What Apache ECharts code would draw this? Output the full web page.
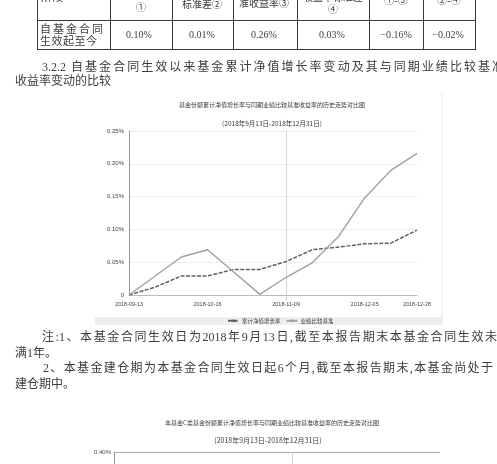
<!DOCTYPE html>
<html><head><meta charset="utf-8">
<script src="https://cdn.jsdelivr.net/npm/echarts@6/dist/echarts.min.js"></script>
<style>
html,body{margin:0;padding:0;background:#fff;}
#page{position:relative;width:497px;height:464px;overflow:hidden;background:#fff;font-family:"Liberation Serif","Noto Sans CJK SC",serif;color:#3d3d3d;}
#chart{position:absolute;left:0;top:0;width:497px;height:464px;}
#doc{position:absolute;left:0;top:0;width:497px;height:464px;}
.t{position:absolute;white-space:nowrap;line-height:1;}
.j{position:absolute;text-align:justify;text-align-last:justify;line-height:1;}
.ln{position:absolute;background:#3a3a3a;}
</style></head><body>
<div id="page"><div id="chart"></div><div id="doc"></div></div>
<script>
// ---------- data ----------
const dates = ['2018-09-13','2018-09-21','2018-10-08','2018-10-16','2018-10-24','2018-11-01','2018-11-09','2018-11-19','2018-11-27','2018-12-05','2018-12-13','2018-12-28'];
const fundReturn = [0, 0.012, 0.029, 0.029, 0.039, 0.039, 0.051, 0.069, 0.073, 0.078, 0.079, 0.099];
const benchmarkReturn = [0, 0.029, 0.058, 0.069, 0.035, 0.001, 0.027, 0.049, 0.089, 0.148, 0.190, 0.216];
const seriesNames = ['累计净值增长率', '业绩比较基准'];
const yAxis1 = [0, 0.25, 0.05];   // min, max, interval (%)
const yAxis2 = [0, 0.40, 0.10];
const chartTitles1 = ['基金份额累计净值增长率与同期业绩比较基准收益率的历史走势对比图', '(2018年9月13日-2018年12月31日)'];
const chartTitles2 = ['本基金C类基金份额累计净值增长率与同期业绩比较基准收益率的历史走势对比图', '(2018年9月13日-2018年12月31日)'];
const tableHeaders = ['阶段', '①', '标准差②', '准收益率③', '收益率标准差', '①-③', '②-④'];
const tableValues = ['0.10%', '0.01%', '0.26%', '0.03%', '\u22120.16%', '\u22120.02%'];
const paragraphs = [
  '3.2.2 自基金合同生效以来基金累计净值增长率变动及其与同期业绩比较基准',
  '收益率变动的比较',
  '注:1、本基金合同生效日为2018年9月13日,截至本报告期末本基金合同生效未',
  '满1年。',
  '2、本基金建仓期为本基金合同生效日起6个月,截至本报告期末,本基金尚处于',
  '建仓期中。'
];

// ---------- document (table + text) ----------
const doc = document.getElementById('doc');
function txt(s, x, cy, size, o) {
  o = o || {};
  const d = document.createElement('div');
  d.className = o.w ? 'j' : 't';
  d.textContent = s;
  d.style.fontSize = size + 'px';
  d.style.top = (cy - size / 2) + 'px';
  if (o.center) { d.style.left = x + 'px'; d.style.transform = 'translateX(-50%)'; }
  else d.style.left = x + 'px';
  if (o.w) d.style.width = o.w + 'px';
  doc.appendChild(d);
}
function line(x, y, w, h) {
  const d = document.createElement('div');
  d.className = 'ln';
  d.style.left = x + 'px'; d.style.top = y + 'px';
  d.style.width = w + 'px'; d.style.height = h + 'px';
  doc.appendChild(d);
}
const colX = [37, 110, 172, 233, 297, 369, 423, 475];
colX.forEach(x => line(x, 0, 1, 49.5));
line(37, 20, 439, 1);
line(37, 48.5, 439, 1.5);
// header row (bottom part visible)
txt(tableHeaders[0], 41, -3, 11);
txt(tableHeaders[1], 141, 8, 10, {center: true});
txt(tableHeaders[2], 202, 5, 10, {center: true});
txt(tableHeaders[3], 264, 4, 10, {center: true});
txt(tableHeaders[4], 333, -2, 10, {center: true});
txt('④', 333, 10, 10, {center: true});
txt(tableHeaders[5], 396, 1, 10, {center: true});
txt(tableHeaders[6], 449, 1, 10, {center: true});
// data row
txt('自基金合同', 40, 29, 11, {w: 63});
txt('生效起至今', 40, 41, 11, {w: 57});
const valCx = [139, 202, 264, 332, 396, 448];
tableValues.forEach((v, i) => txt(v, valCx[i], 35, 10, {center: true}));
// paragraphs
txt(paragraphs[0], 42, 67, 12, {w: 462});
txt(paragraphs[1], 15, 81, 12);
txt(paragraphs[2], 42, 337, 12, {w: 455});
txt(paragraphs[3], 15, 353, 12);
txt(paragraphs[4], 43, 368, 12, {w: 450});
txt(paragraphs[5], 15, 384, 12);

// ---------- chart ----------
const chart = echarts.init(document.getElementById('chart'));
const markIdx = 6;
const showMark = (i) => i === markIdx;
const pctFmt = v => v === 0 ? '0' : v.toFixed(2) + '%';
const titleStyle = (size) => ({fontSize: size, color: '#3a3a3a', fontWeight: 'normal', fontFamily: 'Noto Sans CJK SC'});
chart.setOption({
  animation: false,
  title: [
    {text: chartTitles1[0], left: 272, top: 102, textAlign: 'center', padding: 0, textStyle: titleStyle(6)},
    {text: chartTitles1[1], left: 272, top: 120, textAlign: 'center', padding: 0, textStyle: titleStyle(6.5)},
    {text: chartTitles2[0], left: 272, top: 420, textAlign: 'center', padding: 0, textStyle: titleStyle(6)},
    {text: chartTitles2[1], left: 268, top: 437, textAlign: 'center', padding: 0, textStyle: titleStyle(7)}
  ],
  legend: {
    data: seriesNames, left: 227, top: 318, padding: 0, itemWidth: 11, itemHeight: 4, itemGap: 5,
    textStyle: {fontSize: 5.5, color: '#3a3a3a', fontFamily: 'Noto Sans CJK SC', padding: [0, 0, 0, -2]}
  },
  graphic: [
    {type: 'rect', z: -10, shape: {x: 95, y: 317, width: 348, height: 8}, style: {fill: '#efefef'}},
    {type: 'line', z: -10, shape: {x1: 442, y1: 92, x2: 442, y2: 325}, style: {stroke: '#ececec', lineWidth: 1}}
  ],
  grid: [
    {left: 129, right: 80, top: 131, bottom: 169, outerBoundsMode: 'none'},
    {left: 114, right: 57, top: 452, height: 170, outerBoundsMode: 'none'}
  ],
  xAxis: [
    {gridIndex: 0, type: 'category', data: dates, boundaryGap: false,
     axisLine: {lineStyle: {color: '#bbb'}},
     axisTick: {show: true, interval: showMark, length: 5, lineStyle: {color: '#ccc'}},
     splitLine: {show: true, interval: showMark, lineStyle: {color: '#d4d4d4'}},
     axisLabel: {interval: (i) => i % 3 === 0 || i === dates.length - 1, fontSize: 5.5, color: '#444', margin: 6, fontFamily: 'Liberation Sans'}},
    {gridIndex: 1, type: 'category', data: dates, boundaryGap: false,
     axisLine: {lineStyle: {color: '#bbb'}}, axisTick: {show: false},
     splitLine: {show: true, interval: showMark, lineStyle: {color: '#d0d0d0'}},
     axisLabel: {fontSize: 5.5, color: '#444'}}
  ],
  yAxis: [
    {gridIndex: 0, type: 'value', min: yAxis1[0], max: yAxis1[1], interval: yAxis1[2],
     axisLine: {show: true, lineStyle: {color: '#999'}}, axisTick: {show: false},
     splitLine: {lineStyle: {color: '#eeeeee'}},
     axisLabel: {formatter: pctFmt, fontSize: 6, color: '#444', margin: 5, fontFamily: 'Liberation Sans'}},
    {gridIndex: 1, type: 'value', min: yAxis2[0], max: yAxis2[1], interval: yAxis2[2],
     axisLine: {show: true, lineStyle: {color: '#999'}}, axisTick: {show: false},
     splitLine: {lineStyle: {color: '#aaaaaa'}},
     axisLabel: {formatter: pctFmt, fontSize: 6, color: '#444', margin: 3, fontFamily: 'Liberation Sans'}}
  ],
  series: [
    {name: seriesNames[0], type: 'line', xAxisIndex: 0, yAxisIndex: 0, data: fundReturn, symbol: 'none',
     lineStyle: {color: '#606060', width: 1.5, type: [4, 1.5]}, itemStyle: {color: '#606060'}},
    {name: seriesNames[1], type: 'line', xAxisIndex: 0, yAxisIndex: 0, data: benchmarkReturn, symbol: 'none',
     lineStyle: {color: '#a0a0a0', width: 1.4}, itemStyle: {color: '#a0a0a0'}}
  ]
});
</script>
</body></html>
